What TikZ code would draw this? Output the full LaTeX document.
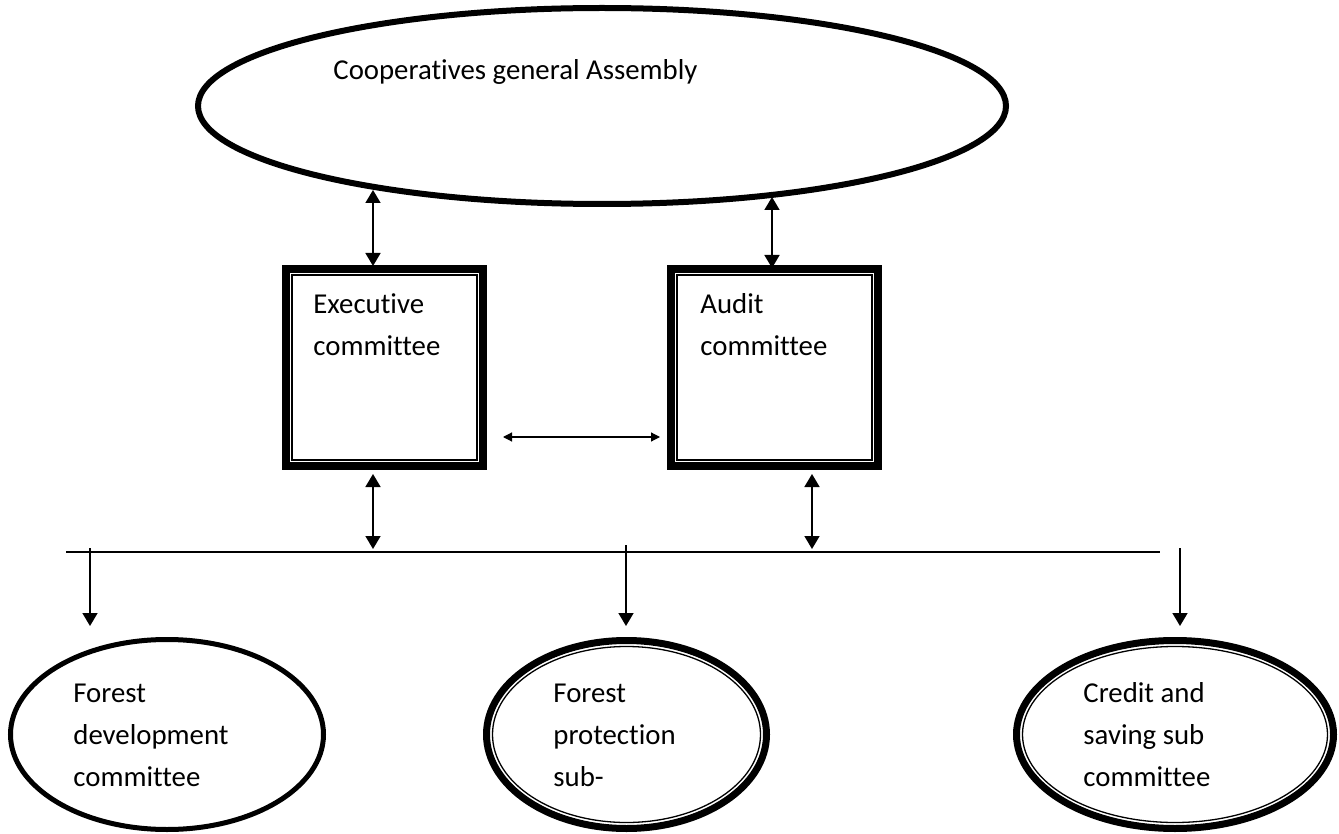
\documentclass[tikz,border=0pt]{standalone}
\usepackage{fontspec}
\setmainfont{Carlito}[Ligatures=NoCommon]
\usetikzlibrary{arrows.meta,shapes.geometric}
\newcommand{\lines}[1]{\begin{tabular}[t]{@{}l@{}}#1\end{tabular}}
\begin{document}
\begin{tikzpicture}[x=0.5pt,y=-0.5pt,
  lbl/.style={anchor=base west,inner sep=0,font=\fontsize{14.4}{21}\selectfont},
  boxst/.style={rectangle,draw,line width=4pt,inner sep=0,minimum width=#1,minimum height=98.5pt},
  thinline/.style={line width=0.65pt},
  ellthick/.style={ellipse,draw,inner sep=0},
  arr/.style={line width=0.85pt,-{Triangle[length=6.5pt,width=7.5pt]}},
  dblarr/.style={line width=0.85pt,{Triangle[length=6.5pt,width=7.5pt]}-{Triangle[length=6.5pt,width=7.5pt]}},
  smallarr/.style={line width=0.6pt,{Triangle[length=4.5pt,width=4.5pt]}-{Triangle[length=4.5pt,width=4.5pt]}}]
\useasboundingbox (0,0) rectangle (1339,834);

% top ellipse
\node[ellthick,line width=3pt,minimum width=404pt,minimum height=98pt] (ga) at (602,106) {};
\node[lbl] (gat) at (333,80) {Cooperatives general Assembly};

% boxes
\node[boxst=98.5pt] (exec) at (384.5,367.5) {};
\draw[thinline] ([xshift=3.25pt,yshift=-3.25pt]exec.north west) rectangle ([xshift=-3.25pt,yshift=3.25pt]exec.south east);
\draw[thinline] ([xshift=5pt,yshift=-5pt]exec.north west) rectangle ([xshift=-5pt,yshift=5pt]exec.south east);
\node[lbl] (exect) at (313,314) {\lines{Executive\\committee}};

\node[boxst=103.5pt] (audit) at (774.5,367.5) {};
\draw[thinline] ([xshift=3.25pt,yshift=-3.25pt]audit.north west) rectangle ([xshift=-3.25pt,yshift=3.25pt]audit.south east);
\draw[thinline] ([xshift=5pt,yshift=-5pt]audit.north west) rectangle ([xshift=-5pt,yshift=5pt]audit.south east);
\node[lbl] (auditt) at (700,314) {\lines{Audit\\committee}};

% bottom ellipses
\node[ellthick,line width=2.5pt,minimum width=156.5pt,minimum height=95pt] (fd) at (167,734.5) {};
\node[lbl] (fdt) at (73,702) {\lines{Forest\\development\\committee}};

\node[ellthick,line width=3.5pt,minimum width=140pt,minimum height=94pt] (fp) at (626.5,734.5) {};
\draw[thinline] (fp.center) ellipse [x radius=67pt,y radius=44pt];
\node[lbl] (fpt) at (553,702) {\lines{Forest\\protection\\sub-}};

\node[ellthick,line width=3.5pt,minimum width=158.5pt,minimum height=94pt] (cs) at (1175,734.5) {};
\draw[thinline] (cs.center) ellipse [x radius=76.25pt,y radius=44pt];
\node[lbl] (cst) at (1083,702) {\lines{Credit and\\saving sub\\committee}};

% connector coordinates
\coordinate (a1) at (373,190);
\coordinate (a2) at (373,266);
\coordinate (b1) at (772,197);
\coordinate (b2) at (772,268);
\coordinate (h1) at (503,437);
\coordinate (h2) at (660,437);
\coordinate (c1) at (373,474);
\coordinate (c2) at (373,549);
\coordinate (d1) at (812,474);
\coordinate (d2) at (812,549);
\coordinate (l1) at (66,552);
\coordinate (l2) at (1160,552);
\coordinate (e1) at (90,548);
\coordinate (e2) at (90,626);
\coordinate (f1) at (626,545);
\coordinate (f2) at (626,626);
\coordinate (g1) at (1180,548);
\coordinate (g2) at (1180,626);

\draw[dblarr] (a1) -- (a2);
\draw[dblarr] (b1) -- (b2);
\draw[smallarr] (h1) -- (h2);
\draw[dblarr] (c1) -- (c2);
\draw[dblarr] (d1) -- (d2);
\draw[line width=0.6pt] (l1) -- (l2);
\draw[arr] (e1) -- (e2);
\draw[arr] (f1) -- (f2);
\draw[arr] (g1) -- (g2);
\end{tikzpicture}
\end{document}
